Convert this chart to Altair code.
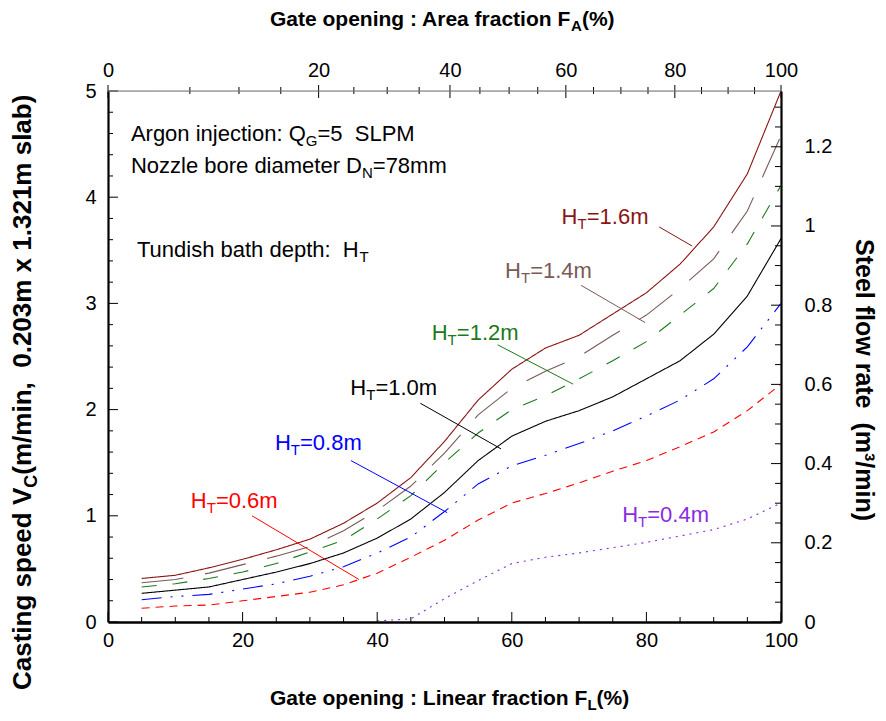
import math
import altair as alt
import pandas as pd

# ---------------- data ----------------
FL = [5, 10, 15, 20, 25, 30, 35, 40, 45, 50, 55, 60, 65, 70, 75, 80, 85, 90, 95, 100]
V_16 = [0.41, 0.44, 0.51, 0.59, 0.68, 0.78, 0.93, 1.12, 1.36, 1.70, 2.09, 2.38, 2.58, 2.70, 2.90, 3.10, 3.37, 3.72, 4.22, 5.00]
V_14 = [0.37, 0.40, 0.46, 0.54, 0.62, 0.71, 0.86, 1.05, 1.28, 1.59, 1.95, 2.20, 2.36, 2.50, 2.70, 2.89, 3.14, 3.42, 3.87, 4.58]
V_12 = [0.33, 0.36, 0.41, 0.47, 0.55, 0.66, 0.77, 0.97, 1.19, 1.50, 1.78, 2.00, 2.13, 2.29, 2.46, 2.64, 2.89, 3.14, 3.56, 4.11]
V_10 = [0.27, 0.30, 0.33, 0.40, 0.47, 0.55, 0.65, 0.79, 0.97, 1.22, 1.52, 1.75, 1.89, 1.99, 2.12, 2.29, 2.46, 2.71, 3.07, 3.61]
V_08 = [0.21, 0.24, 0.26, 0.31, 0.36, 0.43, 0.52, 0.65, 0.80, 1.04, 1.30, 1.47, 1.57, 1.68, 1.80, 1.94, 2.09, 2.29, 2.59, 3.00]
V_06 = [0.13, 0.15, 0.16, 0.20, 0.24, 0.28, 0.35, 0.46, 0.61, 0.77, 0.96, 1.12, 1.21, 1.31, 1.42, 1.52, 1.65, 1.79, 1.99, 2.24]
FL_04 = [40, 45, 50, 55, 60, 65, 70, 75, 80, 85, 90, 95, 100]
V_04 = [0.01, 0.03, 0.22, 0.39, 0.55, 0.61, 0.65, 0.70, 0.75, 0.81, 0.87, 0.97, 1.12]

SERIES = ["1.6m", "1.4m", "1.2m", "1.0m", "0.8m", "0.6m", "0.4m"]
COLORS = ["#8b1414", "#7a5a55", "#1a7a1a", "#000000", "#0000ff", "#ff0000", "#8a2be2"]
DASHES = [[1, 0], [42, 22], [15, 16], [1, 0], [20, 9, 2, 9, 2, 9], [8, 6], [2, 5]]

# curve labels (left/baseline of the text) and leader lines, in data units
LABEL_FL = [67.4, 59.0, 48.1, 36.0, 24.8, 12.3, 76.4]
LABEL_V = [3.75, 3.24, 2.66, 2.14, 1.62, 1.07, 0.94]
LEADER_SERIES = ["1.6m", "1.4m", "1.2m", "1.0m", "0.8m", "0.6m"]
LEADER_FL1 = [81.9, 70.3, 57.9, 46.4, 36.1, 21.4]
LEADER_V1 = [3.72, 3.17, 2.61, 2.06, 1.52, 1.00]
LEADER_FL2 = [86.8, 79.8, 69.1, 58.4, 50.4, 37.3]
LEADER_V2 = [3.54, 2.82, 2.24, 1.63, 1.03, 0.40]

# axis ticks
BOT_MAJOR = [0, 20, 40, 60, 80, 100]
BOT_MINOR = [v for v in range(5, 100, 5) if v % 20]
LEFT_MAJOR = [0, 1, 2, 3, 4, 5]
LEFT_MINOR = [round(i * 0.2, 2) for i in range(1, 25) if i % 5]
TOP_MAJOR_FA = [0, 20, 40, 60, 80, 100]
TOP_MINOR_FA = [v for v in range(5, 100, 5) if v % 20]
RIGHT_MAJOR_Q = [0, 0.2, 0.4, 0.6, 0.8, 1.0, 1.2]
RIGHT_MINOR_Q = [round(i * 0.05, 2) for i in range(1, 27) if i % 4]
SLAB_AREA = 0.203 * 1.321  # m^2 : Q = V * area

W, H = 673, 531
FONT = "Liberation Sans"
PX_X = 100.0 / W   # data units per pixel, x
PX_Y = 5.0 / H     # data units per pixel, y


def area_fraction(fl):
    x = 1 - fl / 100.0
    return 100 * (2 / math.pi) * (math.acos(x) - x * math.sqrt(max(0.0, 1 - x * x)))


def linear_for_area(fa):
    lo, hi = 0.0, 100.0
    for _ in range(60):
        mid = (lo + hi) / 2
        if area_fraction(mid) < fa:
            lo = mid
        else:
            hi = mid
    return (lo + hi) / 2


TOP_MAJOR_POS = [linear_for_area(v) for v in TOP_MAJOR_FA]
TOP_MINOR_POS = [linear_for_area(v) for v in TOP_MINOR_FA]
RIGHT_MAJOR_POS = [q / SLAB_AREA for q in RIGHT_MAJOR_Q]
RIGHT_MINOR_POS = [q / SLAB_AREA for q in RIGHT_MINOR_Q]

# ---------------- tables ----------------
rows = []
for name, vals in zip(SERIES[:6], [V_16, V_14, V_12, V_10, V_08, V_06]):
    for f, v in zip(FL, vals):
        rows.append({"FL": f, "V": v, "series": name})
for f, v in zip(FL_04, V_04):
    rows.append({"FL": f, "V": v, "series": "0.4m"})
curves = pd.DataFrame(rows)

labels = pd.DataFrame({"FL": LABEL_FL, "V": LABEL_V, "series": SERIES,
                       "rest": ["=" + s for s in SERIES]})
dummy = pd.DataFrame({"FL": [0.0], "V": [0.0]})


def tick_rows():
    r = []
    for major in (True, False):
        for p in (BOT_MAJOR if major else BOT_MINOR):
            r.append((p, 0.0, p + 1e-6, (10 if major else 5) * PX_Y, "tick"))
        for p in (LEFT_MAJOR if major else LEFT_MINOR):
            r.append((0.0, p, (10 if major else 5) * PX_X, p + 1e-6, "tick"))
        for p in (RIGHT_MAJOR_POS if major else RIGHT_MINOR_POS):
            r.append((100.0, p, 100 - (10 if major else 6) * PX_X, p + 1e-6, "tick"))
        for p in (TOP_MAJOR_POS if major else TOP_MINOR_POS):
            up, down = (6, 7) if major else (4, 3)
            r.append((p, 5 + up * PX_Y, p + 1e-6, 5 - down * PX_Y, "tick"))
    r.append((0.0, 5.0, 100.0, 5.0 + 1e-6, "frame"))
    return r


# leader lines + tick marks + top frame line: one segment table through the scales
seg_rows = [(a, b, c, d, s) for a, b, c, d, s in
            zip(LEADER_FL1, LEADER_V1, LEADER_FL2, LEADER_V2, LEADER_SERIES)] + tick_rows()
segments = pd.DataFrame(seg_rows, columns=["FL", "V", "FL2", "V2", "series"])

xs = alt.Scale(domain=[0, 100], nice=False, zero=False)
ys = alt.Scale(domain=[0, 5], nice=False, zero=False)
cs = alt.Scale(domain=SERIES + ["tick", "frame"], range=COLORS + ["#000000", "#777777"])
ds = alt.Scale(domain=SERIES, range=DASHES)

XN = alt.X("FL:Q", scale=xs, axis=None)
YN = alt.Y("V:Q", scale=ys, axis=None)

lab_common = dict(labelFont=FONT, labelFontSize=20, labelColor="black",
                  labelFlush=False, labelOverlap=False, grid=False, title=None,
                  ticks=False, tickSize=0)

# main curves with bottom/left labelled axes
lines = alt.Chart(curves).mark_line(strokeWidth=1.1).encode(
    x=alt.X("FL:Q", scale=xs, axis=alt.Axis(orient="bottom", values=BOT_MAJOR, labelPadding=8,
                                            domainColor="black", domainWidth=2.5, **lab_common)),
    y=alt.Y("V:Q", scale=ys, axis=alt.Axis(orient="left", values=LEFT_MAJOR, labelPadding=12,
                                           domainColor="black", domainWidth=2.2, **lab_common)),
    color=alt.Color("series:N", scale=cs, legend=None),
    strokeDash=alt.StrokeDash("series:N", scale=ds, legend=None),
    detail="series:N",
)

# top (area fraction) and right (flow rate) labelled axes
second_axes = alt.Chart(dummy).mark_point(opacity=0, size=1).encode(
    x=alt.X("FL:Q", scale=xs, axis=alt.Axis(
        orient="top", values=TOP_MAJOR_POS, labelPadding=11, domain=False,
        labelExpr="'' + round(200/PI*(acos(1-datum.value/100)-(1-datum.value/100)*sqrt(max(0,1-pow(1-datum.value/100,2)))))",
        **lab_common)),
    y=alt.Y("V:Q", scale=ys, axis=alt.Axis(
        orient="right", values=RIGHT_MAJOR_POS, labelPadding=23,
        domainColor="black", domainWidth=2.2,
        labelExpr="'' + round(datum.value*%r*10)/10" % SLAB_AREA, **lab_common)),
)

seg_layer = alt.Chart(segments).mark_rule(strokeWidth=1).encode(
    x=XN, y=YN, x2="FL2:Q", y2="V2:Q",
    color=alt.Color("series:N", scale=cs, legend=None))


# curve labels  H_T=...
def label_part(text, size, dx, dy, field=False):
    m = alt.Chart(labels).mark_text(align="left", baseline="alphabetic", font=FONT,
                                    fontSize=size, dx=dx, dy=dy)
    return m.encode(x=XN, y=YN,
                    text=(alt.Text("rest:N") if field else alt.value(text)),
                    color=alt.Color("series:N", scale=cs, legend=None))


label_layers = [label_part("H", 22, 0, 0), label_part("T", 15, 15.9, 5),
                label_part("", 22, 25.1, 0, field=True)]

# free annotations
NOTE_FL = [3.4, 3.4, 4.3]
NOTE_V = [4.53, 4.23, 3.44]
NOTE_PARTS = [
    [("Argon injection: Q", 22, 0, 0), ("G", 15, 174.9, 5), ("=5\u00a0 SLPM", 22, 186.6, 0)],
    [("Nozzle bore diameter D", 22, 0, 0), ("N", 15, 231.1, 5), ("=78mm", 22, 241.9, 0)],
    [("Tundish bath depth:\u00a0 H", 22, 0, 0), ("T", 15, 222.6, 5)],
]
note_layers = []
for f, v, parts in zip(NOTE_FL, NOTE_V, NOTE_PARTS):
    d = pd.DataFrame({"FL": [f], "V": [v]})
    for text, size, dx, dy in parts:
        note_layers.append(alt.Chart(d).mark_text(
            align="left", baseline="alphabetic", font=FONT, fontSize=size, dx=dx, dy=dy,
            color="black").encode(x=XN, y=YN, text=alt.value(text)))


# titles (pixel placed, rich text)
def title_piece(text, px, py, size, dx=0, dy=0, angle=0, align="left"):
    return alt.Chart(dummy).mark_text(
        align=align, baseline="alphabetic", font=FONT, fontSize=size, fontWeight="bold",
        dx=dx, dy=dy, angle=angle, color="black").encode(
        x=alt.value(px), y=alt.value(py), text=alt.value(text))


title_layers = [
    title_piece("Gate opening : Linear fraction F", 162, 614, 21),
    title_piece("L", 162, 614, 15, dx=317.4, dy=5),
    title_piece("(%)", 162, 614, 21, dx=326.6),
    title_piece("Gate opening : Area fraction F", 162, -65, 21),
    title_piece("A", 162, -65, 15, dx=301.1, dy=5),
    title_piece("(%)", 162, -65, 21, dx=311.9),
    title_piece("Casting speed V", -77, 599, 26, angle=270),
    title_piece("C", -77, 599, 18, dx=202.3, dy=6, angle=270),
    title_piece("(m/min,\u00a0 0.203m x 1.321m slab)", -77, 599, 26, dx=215.3, angle=270),
    title_piece("Steel flow rate\u00a0 (m\u00b3/min)", 748, 289, 25, angle=90, align="center"),
]

chart = alt.layer(
    second_axes, lines, seg_layer, *label_layers, *note_layers, *title_layers
).resolve_axis(x="independent", y="independent").properties(
    width=W, height=H,
    padding={"left": 100, "top": 83, "right": 97, "bottom": 90},
    autosize=alt.AutoSizeParams(type="none"),
).configure_view(stroke=None).configure(background="white")

chart.save("out.html", embed_options={"renderer": "svg", "actions": False})
